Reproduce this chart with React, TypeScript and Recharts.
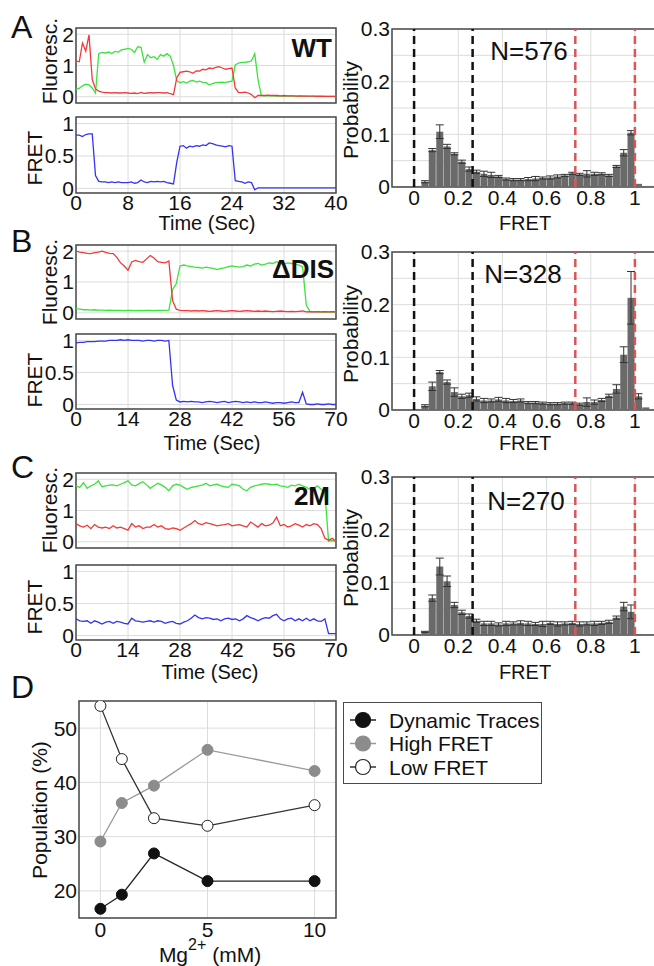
import React from 'react';
import {
  LineChart,
  Line,
  BarChart,
  Bar,
  ErrorBar,
  XAxis,
  YAxis,
  CartesianGrid,
  ReferenceLine,
  ReferenceArea,
  Legend,
} from 'recharts';

const FONT = '"Liberation Sans", Arial, Helvetica, sans-serif';

// ---- single-molecule traces (A: 0.5 s frames, B/C: 1 s frames) ----
const FRAME_A = 0.5;
const FRAME_BC = 1;

const redA = [
  1.15, 1.12, 1.72, 1.46, 1.98, 0.55, 0.25, 0.18, 0.15, 0.13,
  0.13, 0.12, 0.13, 0.12, 0.12, 0.13, 0.12, 0.11, 0.12, 0.1,
  0.14, 0.11, 0.12, 0.13, 0.12, 0.13, 0.13, 0.12, 0.13, 0.1,
  0.07, 0.6, 0.78, 0.8, 0.82, 0.8, 0.75, 0.83, 0.82, 0.88,
  0.86, 0.92, 0.9, 0.94, 0.96, 0.92, 0.88, 0.9, 0.92, 0.28,
  0.14, 0.13, 0.15, 0.12, 0.07, -0.03, 0.04, 0.04, 0.04, 0.05,
  0.04, 0.04, 0.04, 0.03, 0.04, 0.03, 0.03, 0.03, 0.02, 0.03,
  0.02, 0.02, 0.02, 0.02, 0.01, 0.02, 0.01, 0.01, 0.01, 0.01,
  0.01,
];
const greenA = [
  0.25, 0.27, 0.35, 0.4, 0.38, 0.28, 0.12, 1.38, 1.42, 1.4,
  1.43, 1.38, 1.45, 1.43, 1.5, 1.52, 1.55, 1.52, 1.42, 1.6,
  1.58, 1.1, 1.35, 1.25, 1.28, 1.2, 1.35, 1.3, 1.38, 1.3,
  1.0, 0.52, 0.45, 0.48, 0.44, 0.5, 0.52, 0.47, 0.5, 0.46,
  0.45, 0.38, 0.42, 0.45, 0.46, 0.47, 0.45, 0.48, 0.5, 1.02,
  1.08, 1.1, 1.1, 1.12, 1.15, 1.38, 0.55, 0.05, 0.03, 0.03,
  0.03, 0.03, 0.02, 0.03, 0.02, 0.02, 0.03, 0.02, 0.02, 0.02,
  0.02, 0.02, 0.01, 0.02, 0.02, 0.01, 0.02, 0.01, 0.01, 0.01,
  0.01,
];
const fretA = [
  0.82, 0.82, 0.8, 0.83, 0.84, 0.84, 0.2, 0.11, 0.1, 0.1,
  0.09, 0.1, 0.09, 0.1, 0.09, 0.09, 0.09, 0.1, 0.08, 0.09,
  0.13, 0.1, 0.09, 0.11, 0.1, 0.11, 0.1, 0.11, 0.09, 0.08,
  0.07, 0.4, 0.65, 0.66, 0.62, 0.65, 0.64, 0.66, 0.65, 0.67,
  0.66, 0.7, 0.69, 0.67, 0.66, 0.65, 0.64, 0.66, 0.65, 0.12,
  0.11, 0.1, 0.08, 0.1, 0.09, -0.02, 0.01, 0.01, 0.01, 0.01,
  0.01, 0.01, 0.01, 0.01, 0.01, 0.01, 0.01, 0.01, 0.01, 0.01,
  0.01, 0.01, 0.01, 0.01, 0.01, 0.01, 0.01, 0.01, 0.01, 0.01,
  0.01,
];

const redB = [
  2.0, 1.97, 1.95, 1.93, 1.92, 1.95, 1.97, 2.0, 1.96, 1.93,
  1.92, 1.8, 1.62, 1.52, 1.38, 1.65, 1.7, 1.66, 1.64, 1.75,
  1.86, 1.78, 1.66, 1.64, 1.62, 1.68, 0.4, 0.12, 0.08, 0.07,
  0.07, 0.06, 0.07, 0.06, 0.07, 0.06, 0.05, 0.06, 0.07, 0.06,
  0.05, 0.06, 0.07, 0.06, 0.05, 0.06, 0.07, 0.06, 0.05, 0.06,
  0.05, 0.06, 0.05, 0.04, 0.05, 0.06, 0.05, 0.04, 0.05, 0.04,
  0.05, 0.06, 0.03, 0.04, 0.03, 0.04, 0.03, 0.04, 0.03, 0.04,
  0.03,
];
const greenB = [
  0.14, 0.12, 0.1, 0.1, 0.09, 0.1, 0.09, 0.09, 0.08, 0.09,
  0.08, 0.08, 0.08, 0.07, 0.08, 0.08, 0.07, 0.08, 0.07, 0.08,
  0.08, 0.07, 0.08, 0.08, 0.08, 0.09, 0.75, 0.95, 1.52, 1.55,
  1.52, 1.5, 1.48, 1.47, 1.45, 1.48, 1.46, 1.44, 1.4, 1.44,
  1.46, 1.5, 1.52, 1.5, 1.48, 1.5, 1.55, 1.52, 1.58, 1.6,
  1.55, 1.58, 1.62, 1.6, 1.66, 1.6, 1.58, 1.62, 1.6, 1.58,
  1.55, 1.5, 0.25, 0.04, 0.03, 0.03, 0.02, 0.03, 0.02, 0.03,
  0.02,
];
const fretB = [
  0.96, 0.97, 0.97, 0.98, 0.98, 0.98, 0.99, 0.99, 0.99, 1.0,
  1.0, 1.0, 1.01, 1.0, 1.01, 1.0, 1.0, 1.0, 0.99, 1.0,
  1.0, 0.99, 1.0, 1.0, 0.99, 1.0, 0.3, 0.07, 0.04, 0.05,
  0.04, 0.05, 0.04, 0.04, 0.03, 0.04, 0.05, 0.04, 0.03, 0.04,
  0.05, 0.03, 0.04, 0.05, 0.04, 0.03, 0.04, 0.03, 0.04, 0.03,
  0.03, 0.04, 0.03, 0.02, 0.03, 0.03, 0.02, 0.03, 0.04, 0.03,
  0.03, 0.19, 0.01, 0.0, 0.0, 0.01, 0.0, 0.0, 0.01, 0.0,
  0.0,
];

const redC = [
  0.58, 0.51, 0.47, 0.53, 0.42, 0.55, 0.47, 0.44, 0.47, 0.42,
  0.51, 0.44, 0.47, 0.42, 0.37, 0.58, 0.47, 0.51, 0.42, 0.47,
  0.47, 0.55, 0.47, 0.51, 0.42, 0.4, 0.44, 0.42, 0.37, 0.44,
  0.51, 0.58, 0.68, 0.58, 0.55, 0.61, 0.58, 0.55, 0.51, 0.53,
  0.55, 0.58, 0.51, 0.53, 0.55, 0.51, 0.47, 0.63, 0.55, 0.47,
  0.58, 0.51, 0.53, 0.6, 0.79, 0.51, 0.55, 0.47, 0.51, 0.58,
  0.53, 0.47, 0.55, 0.51, 0.58, 0.55, 0.42, 0.11, 0.05, 0.11,
  0.0,
];
const greenC = [
  1.79, 1.74, 1.89, 1.71, 1.79, 1.84, 1.95, 1.76, 1.79, 1.81,
  1.82, 1.79, 1.84, 1.89, 1.95, 1.82, 1.79, 1.86, 1.92, 1.82,
  1.71, 1.79, 1.87, 1.82, 1.74, 1.63, 1.79, 1.84, 1.81, 1.74,
  1.68, 1.74, 1.76, 1.79, 1.81, 1.87, 1.79, 1.82, 1.84, 1.79,
  1.76, 1.74, 1.84, 1.82, 1.79, 1.68, 1.63, 1.74, 1.79, 1.81,
  1.84, 1.86, 1.84, 1.82, 1.84, 1.79, 1.77, 1.74, 1.81, 1.79,
  1.84, 1.79, 1.74, 1.68, 1.71, 1.79, 1.68, 1.58, 0.02, 0.04,
  0.03,
];
const fretC = [
  0.26, 0.23, 0.22, 0.23, 0.19, 0.23, 0.21, 0.18, 0.21, 0.22,
  0.19, 0.22, 0.21, 0.19, 0.18, 0.27, 0.23, 0.22, 0.21, 0.22,
  0.23, 0.21, 0.23, 0.22, 0.19, 0.21, 0.22, 0.19, 0.18, 0.21,
  0.23, 0.27, 0.32, 0.28, 0.26, 0.28, 0.27, 0.25, 0.26, 0.23,
  0.26, 0.27, 0.25, 0.26, 0.23, 0.26, 0.31, 0.28, 0.26, 0.23,
  0.26, 0.28, 0.27, 0.31, 0.33, 0.26, 0.23, 0.26, 0.27, 0.23,
  0.26, 0.23, 0.27, 0.23, 0.26, 0.23, 0.22, 0.26, 0.03, 0.03,
  0.03,
];

// ---- FRET histograms ----
const fretBins = [
  -0.083, -0.05, -0.017, 0.017, 0.05, 0.083, 0.117, 0.15, 0.183, 0.217,
  0.25, 0.283, 0.317, 0.35, 0.383, 0.417, 0.45, 0.483, 0.517, 0.55,
  0.583, 0.617, 0.65, 0.683, 0.717, 0.75, 0.783, 0.817, 0.85, 0.883,
  0.917, 0.95, 0.983, 1.017, 1.05, 1.083,
];
const probA = [
  0.001, 0.001, 0.001, 0.002, 0.01, 0.07, 0.105, 0.077, 0.063, 0.048,
  0.034, 0.029, 0.025, 0.023, 0.02, 0.015, 0.014, 0.014, 0.015, 0.016,
  0.017, 0.018, 0.02, 0.022, 0.026, 0.024, 0.025, 0.025, 0.025, 0.022,
  0.039, 0.065, 0.103, 0.006, 0.002, 0.002,
];
const errA = [
  0, 0, 0, 0, 0.002, 0.003, 0.013, 0.004, 0.002, 0.003,
  0.004, 0.003, 0.005, 0.005, 0.002, 0.002, 0.002, 0.002, 0.003, 0.004,
  0.002, 0.003, 0.003, 0.002, 0.002, 0.002, 0.006, 0.003, 0.002, 0.002,
  0.002, 0.006, 0.004, 0, 0, 0,
];
const probB = [
  0.001, 0.001, 0.001, 0.002, 0.008, 0.045, 0.072, 0.053, 0.034, 0.026,
  0.028, 0.021, 0.018, 0.018, 0.02, 0.018, 0.017, 0.018, 0.014, 0.014,
  0.013, 0.012, 0.012, 0.013, 0.013, 0.011, 0.015, 0.015, 0.019, 0.027,
  0.04, 0.105, 0.213, 0.026, 0.005, 0.002,
];
const errB = [
  0, 0, 0, 0, 0.002, 0.008, 0.003, 0.004, 0.008, 0.004,
  0.004, 0.004, 0.004, 0.003, 0.004, 0.004, 0.003, 0.003, 0.002, 0.002,
  0.002, 0.002, 0.002, 0.002, 0.002, 0.002, 0.008, 0.004, 0.003, 0.003,
  0.008, 0.015, 0.05, 0.005, 0, 0,
];
const probC = [
  0.001, 0.001, 0.001, 0.002, 0.006, 0.07, 0.13, 0.102, 0.057, 0.043,
  0.036, 0.027, 0.022, 0.022, 0.02, 0.022, 0.022, 0.023, 0.022, 0.021,
  0.021, 0.023, 0.021, 0.022, 0.023, 0.021, 0.022, 0.022, 0.023, 0.025,
  0.033, 0.054, 0.044, 0.002, 0.001, 0.001,
];
const errC = [
  0, 0, 0, 0, 0.001, 0.006, 0.016, 0.01, 0.005, 0.004,
  0.004, 0.003, 0.004, 0.004, 0.003, 0.004, 0.003, 0.004, 0.004, 0.003,
  0.005, 0.003, 0.004, 0.003, 0.003, 0.004, 0.003, 0.004, 0.003, 0.003,
  0.003, 0.008, 0.013, 0, 0, 0,
];

// ---- panel D ----
const mgConc = [0, 1, 2.5, 5, 10];
const dynamicTraces = [16.7, 19.3, 26.9, 21.8, 21.8];
const highFret = [29.1, 36.2, 39.4, 46.0, 42.1];
const lowFret = [54.1, 44.3, 33.4, 32.0, 35.8];

const traceRows = (frame: number, red: number[], green: number[], fret: number[]) =>
  red.map((r, i) => ({ t: i * frame, red: r, green: green[i], fret: fret[i] }));
const histRows = (p: number[], e: number[]) =>
  fretBins.map((x, i) => ({ x, p: p[i], e: e[i] }));

const panels = [
  {
    rows: traceRows(FRAME_A, redA, greenA, fretA),
    hist: histRows(probA, errA),
    tMax: 40,
    tTicks: [0, 8, 16, 24, 32, 40],
    fluorTop: 28, fluorH: 75, fretTop: 117, fretH: 76, histTop: 29,
  },
  {
    rows: traceRows(FRAME_BC, redB, greenB, fretB),
    hist: histRows(probB, errB),
    tMax: 70,
    tTicks: [0, 14, 28, 42, 56, 70],
    fluorTop: 245, fluorH: 74, fretTop: 334, fretH: 75, histTop: 252,
  },
  {
    rows: traceRows(FRAME_BC, redC, greenC, fretC),
    hist: histRows(probC, errC),
    tMax: 70,
    tTicks: [0, 14, 28, 42, 56, 70],
    fluorTop: 473, fluorH: 75, fretTop: 565, fretH: 75, histTop: 477,
  },
];

const dRows = mgConc.map((mg, i) => ({
  mg,
  dyn: dynamicTraces[i],
  high: highFret[i],
  low: lowFret[i],
}));

const TICK = { fontSize: 21, fill: '#111', fontFamily: FONT };
const GRID = '#dcdcdc';
const BORDER = '#4a4a4a';
const YW = 60;
const MT = 12; // room above each plot so the top tick label is not clipped
const MR = 14;
const TRACE_X = 76;
const TRACE_W = 260;
const HIST_X = 392;
const HIST_W = 265;
const HIST_H = 158;

function TraceChart({ rows, keys, top, h, tMax, tTicks, domain, yTicks, showX }: any) {
  const xh = showX ? 26 : 12;
  return (
    <div style={{ position: 'absolute', left: TRACE_X - YW, top: top - MT }}>
      <LineChart
        width={YW + TRACE_W + MR}
        height={MT + h + xh}
        data={rows}
        margin={{ top: MT, right: MR, bottom: 0, left: 0 }}
      >
        <CartesianGrid stroke={GRID} />
        <XAxis
          dataKey="t"
          type="number"
          domain={[0, tMax]}
          ticks={tTicks}
          interval={0}
          allowDataOverflow
          height={xh}
          axisLine={false}
          tickSize={0}
          tickMargin={2}
          tick={TICK}
          tickFormatter={showX ? undefined : () => ''}
        />
        <YAxis
          domain={domain}
          ticks={yTicks}
          interval={0}
          allowDataOverflow
          width={YW}
          axisLine={false}
          tickSize={0}
          tickMargin={2}
          tick={TICK}
        />
        {keys.map((k: any) => (
          <Line
            key={k.key}
            type="linear"
            dataKey={k.key}
            stroke={k.color}
            strokeWidth={1.3}
            dot={false}
            isAnimationActive={false}
          />
        ))}
        <ReferenceArea
          x1={0}
          x2={tMax}
          y1={domain[0]}
          y2={domain[1]}
          fill="none"
          stroke={BORDER}
          strokeWidth={1.5}
          ifOverflow="visible"
        />
      </LineChart>
    </div>
  );
}

function HistChart({ rows, top }: any) {
  return (
    <div style={{ position: 'absolute', left: HIST_X - YW, top: top - MT }}>
      <BarChart
        width={YW + HIST_W + MR}
        height={MT + HIST_H + 26}
        data={rows}
        margin={{ top: MT, right: MR, bottom: 0, left: 0 }}
        barCategoryGap={0}
        barGap={0}
      >
        <CartesianGrid stroke={GRID} />
        <XAxis
          dataKey="x"
          type="number"
          domain={[-0.1, 1.1]}
          ticks={[0, 0.2, 0.4, 0.6, 0.8, 1]}
          interval={0}
          allowDataOverflow
          height={26}
          axisLine={false}
          tickSize={0}
          tickMargin={3}
          tick={TICK}
        />
        <YAxis
          domain={[0, 0.3]}
          ticks={[0, 0.05, 0.1, 0.15, 0.2, 0.25, 0.3]}
          interval={0}
          allowDataOverflow
          width={YW}
          axisLine={false}
          tickSize={0}
          tickMargin={2}
          tick={TICK}
          tickFormatter={(v: number) => ([0, 0.1, 0.2, 0.3].includes(v) ? String(v) : '')}
        />
        <Bar dataKey="p" fill="#6a6a6a" isAnimationActive={false}>
          <ErrorBar dataKey="e" width={4} stroke="#333" strokeWidth={1} direction="y" />
        </Bar>
        <ReferenceLine x={0} stroke="#111" strokeWidth={2.5} strokeDasharray="8 5" />
        <ReferenceLine x={0.265} stroke="#111" strokeWidth={2.5} strokeDasharray="8 5" />
        <ReferenceLine x={0.73} stroke="#dd5555" strokeWidth={2.5} strokeDasharray="8 5" />
        <ReferenceLine x={1} stroke="#dd5555" strokeWidth={2.5} strokeDasharray="8 5" />
        <ReferenceArea
          x1={-0.1}
          x2={1.1}
          y1={0}
          y2={0.3}
          fill="none"
          stroke={BORDER}
          strokeWidth={1.5}
          ifOverflow="visible"
        />
      </BarChart>
    </div>
  );
}

const D_STYLE: Record<string, { line: string; fill: string; stroke: string }> = {
  dyn: { line: '#222', fill: '#111', stroke: '#111' },
  high: { line: '#999', fill: '#8c8c8c', stroke: '#8c8c8c' },
  low: { line: '#333', fill: '#fff', stroke: '#222' },
};

function DLegend({ payload }: any) {
  return (
    <div style={{ width: 197, height: 80, border: `1.5px solid ${BORDER}`, background: '#fff' }}>
      <svg width={197} height={80}>
        {(payload || []).map((p: any, i: number) => {
          const s = D_STYLE[p.dataKey];
          const cy = 17 + i * 23.5;
          return (
            <g key={p.dataKey}>
              <line x1={6} x2={32} y1={cy} y2={cy} stroke={s.line} strokeWidth={1.5} />
              <circle cx={19} cy={cy} r={7.5} fill={s.fill} stroke={s.stroke} strokeWidth={1.2} />
              <text x={45} y={cy + 7.5} fontSize={21} fontFamily={FONT} fill="#111">
                {p.value}
              </text>
            </g>
          );
        })}
      </svg>
    </div>
  );
}

function PanelD() {
  const dot = (k: string) => ({ r: 5.5, fill: D_STYLE[k].fill, stroke: D_STYLE[k].stroke, strokeWidth: 1 });
  return (
    <div style={{ position: 'absolute', left: 79 - YW, top: 701 - MT }}>
      <LineChart
        width={530}
        height={MT + 217 + 28}
        data={dRows}
        margin={{ top: MT, right: 213, bottom: 0, left: 0 }}
      >
        <CartesianGrid stroke={GRID} />
        <XAxis
          dataKey="mg"
          type="number"
          domain={[-1, 11]}
          ticks={[0, 5, 10]}
          interval={0}
          allowDataOverflow
          height={28}
          axisLine={false}
          tickSize={0}
          tickMargin={4}
          tick={TICK}
        />
        <YAxis
          domain={[15, 55]}
          ticks={[20, 30, 40, 50]}
          interval={0}
          allowDataOverflow
          width={YW}
          axisLine={false}
          tickSize={0}
          tickMargin={2}
          tick={TICK}
        />
        <Line dataKey="dyn" name="Dynamic Traces" stroke={D_STYLE.dyn.line} strokeWidth={1.3} dot={dot('dyn')} isAnimationActive={false} />
        <Line dataKey="high" name="High FRET" stroke={D_STYLE.high.line} strokeWidth={1.3} dot={dot('high')} isAnimationActive={false} />
        <Line dataKey="low" name="Low FRET" stroke={D_STYLE.low.line} strokeWidth={1.3} dot={dot('low')} isAnimationActive={false} />
        <ReferenceArea x1={-1} x2={11} y1={15} y2={55} fill="none" stroke={BORDER} strokeWidth={1.5} ifOverflow="visible" />
        <Legend
          layout="vertical"
          align="center"
          verticalAlign="middle"
          content={<DLegend />}
          wrapperStyle={{ left: 324, top: 1 + MT, width: 200, height: 84 }}
        />
      </LineChart>
    </div>
  );
}

const rot = (x: number, y: number) => `translate(${x},${y}) rotate(-90)`;

function Labels() {
  const t = { fontFamily: FONT, fill: '#111' };
  return (
    <svg
      width={654}
      height={966}
      style={{ position: 'absolute', left: 0, top: 0, pointerEvents: 'none' }}
    >
      <g {...t} fontSize={32}>
        <text x={11} y={38}>A</text>
        <text x={11} y={252}>B</text>
        <text x={11} y={478}>C</text>
        <text x={11} y={698}>D</text>
      </g>
      <g {...t} fontSize={26} fontWeight="bold" textAnchor="end">
        <text x={332} y={57}>WT</text>
        <text x={334} y={278}>ΔDIS</text>
        <text x={330} y={505}>2M</text>
      </g>
      <g {...t} fontSize={26} textAnchor="middle">
        <text x={529} y={60}>N=576</text>
        <text x={523} y={283}>N=328</text>
        <text x={526} y={510}>N=270</text>
      </g>
      <g {...t} fontSize={21} textAnchor="middle">
        <text transform={rot(57, 61)}>Fluoresc.</text>
        <text transform={rot(57, 282)}>Fluoresc.</text>
        <text transform={rot(57, 510)}>Fluoresc.</text>
        <text transform={rot(42, 158)}>FRET</text>
        <text transform={rot(42, 380)}>FRET</text>
        <text transform={rot(42, 607)}>FRET</text>
        <text transform={rot(358, 110)}>Probability</text>
        <text transform={rot(358, 334)}>Probability</text>
        <text transform={rot(358, 558)}>Probability</text>
        <text transform={rot(47, 810)}>Population (%)</text>
      </g>
      <g {...t} fontSize={20} textAnchor="middle">
        <text x={207} y={230}>Time (Sec)</text>
        <text x={212} y={450}>Time (Sec)</text>
        <text x={210} y={679}>Time (Sec)</text>
        <text x={525} y={230}>FRET</text>
        <text x={525} y={450}>FRET</text>
        <text x={525} y={679}>FRET</text>
        <text x={210} y={962} fontSize={21}>
          Mg<tspan dy={-12} fontSize={16}>2+</tspan>
          <tspan dy={12}> (mM)</tspan>
        </text>
      </g>
    </svg>
  );
}

const TRACE_KEYS = [
  { key: 'green', color: '#3ee23e' },
  { key: 'red', color: '#f03a3a' },
];
const FRET_KEYS = [{ key: 'fret', color: '#3434f2' }];

export default function App() {
  return (
    <div
      style={{
        position: 'absolute',
        left: 0,
        top: 0,
        width: 654,
        height: 966,
        overflow: 'hidden',
        background: '#fff',
        fontFamily: FONT,
      }}
    >
      {panels.map((p, i) => (
        <React.Fragment key={i}>
          <TraceChart
            rows={p.rows}
            keys={TRACE_KEYS}
            top={p.fluorTop}
            h={p.fluorH}
            tMax={p.tMax}
            tTicks={p.tTicks}
            domain={[-0.2, 2.2]}
            yTicks={[0, 1, 2]}
            showX={false}
          />
          <TraceChart
            rows={p.rows}
            keys={FRET_KEYS}
            top={p.fretTop}
            h={p.fretH}
            tMax={p.tMax}
            tTicks={p.tTicks}
            domain={[-0.07, 1.1]}
            yTicks={[0, 0.5, 1]}
            showX
          />
          <HistChart rows={p.hist} top={p.histTop} />
        </React.Fragment>
      ))}
      <PanelD />
      <Labels />
    </div>
  );
}
